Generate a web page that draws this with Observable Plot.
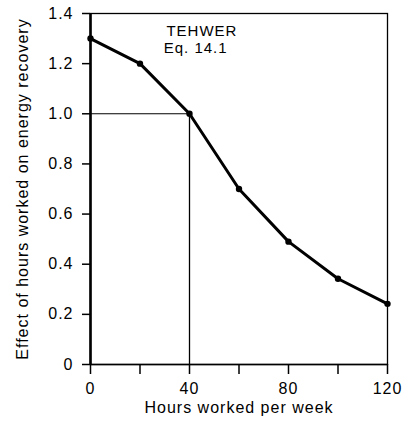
<!DOCTYPE html>
<html>
<head>
<meta charset="utf-8">
<script src="https://cdn.jsdelivr.net/npm/d3@7"></script>
<script src="https://cdn.jsdelivr.net/npm/@observablehq/plot@0.6"></script>
<style>
  html, body { margin: 0; padding: 0; background: #fff; }
  svg { letter-spacing: 1px; }
</style>
</head>
<body>
<div id="chart"></div>
<script>
const hours = [0, 20, 40, 60, 80, 100, 120];
const effect = [1.3, 1.2, 1.0, 0.7, 0.49, 0.342, 0.242];
const xTicks = [0, 20, 40, 60, 80, 100, 120];
const xTickLabels = {0: "0", 40: "40", 80: "80", 120: "120"};
const yTicks = [0, 0.2, 0.4, 0.6, 0.8, 1.0, 1.2, 1.4];
const yTickLabels = ["0", "0.2", "0.4", "0.6", "0.8", "1.0", "1.2", "1.4"];
const annotation = ["TEHWER", "Eq. 14.1"];
const refX = 40, refY = 1.0;

const data = hours.map((h, i) => ({h, e: effect[i]}));

const chart = Plot.plot({
  width: 408,
  height: 431,
  marginLeft: 90,
  marginRight: 21,
  marginTop: 13,
  marginBottom: 67,
  style: {fontFamily: "'Liberation Sans', Arial, sans-serif", fontSize: "14px", color: "#000", background: "#fff"},
  x: {domain: [0, 120]},
  y: {domain: [0, 1.4]},
  marks: [
    Plot.frame({stroke: "#000", strokeWidth: 1.3}),
    Plot.ruleY([0], {stroke: "#000", strokeWidth: 1.6}),
    Plot.ruleX([0], {stroke: "#000", strokeWidth: 2.6}),
    Plot.ruleY([refY], {x1: 0, x2: refX, stroke: "#000", strokeWidth: 1.1}),
    Plot.ruleX([refX], {y1: 0, y2: refY, stroke: "#000", strokeWidth: 1.3}),
    Plot.axisX({ticks: xTicks, tickSize: 10, tickPadding: 8, strokeWidth: 1.5,
      tickFormat: d => xTickLabels[d] ?? "", fontSize: 16,
      label: "Hours worked per week", labelAnchor: "center", labelArrow: "none", labelOffset: 48}),
    Plot.axisY({ticks: yTicks, tickSize: 8, tickPadding: 9, strokeWidth: 1.5,
      tickFormat: d => yTickLabels[yTicks.findIndex(t => Math.abs(t - d) < 1e-9)], fontSize: 16,
      label: "Effect of hours worked on energy recovery", labelAnchor: "center", labelArrow: "none", labelOffset: 74}),
    Plot.line(data, {x: "h", y: "e", stroke: "#000", strokeWidth: 3}),
    Plot.dot(data, {x: "h", y: "e", r: 3.2, fill: "#000"}),
    Plot.text([annotation[0]], {x: 45, y: 1.33, text: d => d, fontSize: 15, fill: "#000"}),
    Plot.text([annotation[1]], {x: 42.5, y: 1.26, text: d => d, fontSize: 15, fill: "#000"})
  ]
});
document.getElementById("chart").appendChild(chart);
</script>
</body>
</html>
